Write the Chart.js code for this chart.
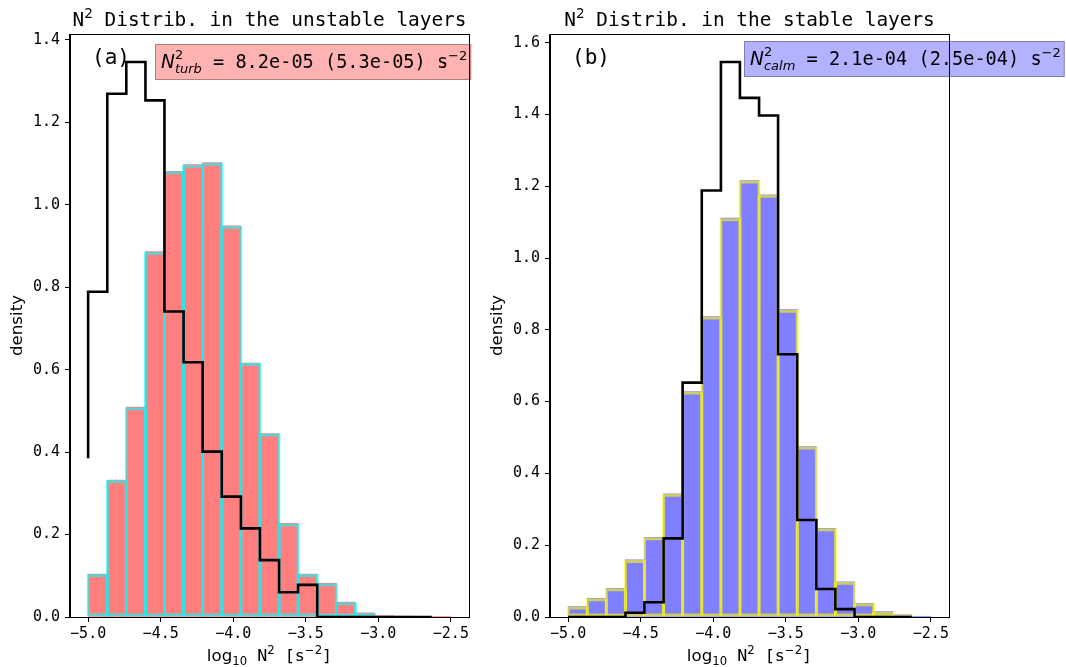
<!DOCTYPE html>
<html><head><meta charset="utf-8">
<script src="https://cdn.jsdelivr.net/npm/chart.js@4/dist/chart.umd.min.js"></script>
<style>
html,body{margin:0;padding:0;background:#fff;width:1066px;height:667px;overflow:hidden}
canvas{position:absolute;left:0;top:0}
</style></head><body>
<canvas id="c1" width="1066" height="667"></canvas>
<canvas id="c2" width="1066" height="667"></canvas>
<script>
// ---- data ----
const binEdges = [-5.000,-4.868,-4.737,-4.605,-4.474,-4.342,-4.211,-4.079,-3.947,-3.816,
                  -3.684,-3.553,-3.421,-3.289,-3.158,-3.026,-2.895,-2.763,-2.632,-2.500];
const unstableBars = [0.104,0.332,0.509,0.886,1.081,1.097,1.102,0.949,0.616,0.445,
                      0.227,0.104,0.082,0.036,0.010,0.003,0.002,0.001,0.001];
const unstableLine = [0.385,0.789,1.269,1.346,1.253,0.741,0.618,0.401,0.292,0.215,
                      0.138,0.060,0.078,0,0,0,0,0,0];
const stableBars = [0.029,0.052,0.080,0.159,0.222,0.343,0.628,0.837,1.111,1.216,
                    1.176,0.856,0.475,0.247,0.098,0.038,0.015,0.006,0.002];
const stableLine = [0,0,0,0,0.012,0.041,0.219,0.653,1.188,1.546,
                    1.446,1.397,0.732,0.270,0.078,0.022,0,0,0];
const xTicks = [-5.0,-4.5,-4.0,-3.5,-3.0,-2.5];
const xTickLabels = ['\u22125.0','\u22124.5','\u22124.0','\u22123.5','\u22123.0','\u22122.5'];
const yTicksUnstable = [0,0.2,0.4,0.6,0.8,1.0,1.2,1.4];
const yTickLabelsUnstable = ['0.0','0.2','0.4','0.6','0.8','1.0','1.2','1.4'];
const yTicksStable = [0,0.2,0.4,0.6,0.8,1.0,1.2,1.4,1.6];
const yTickLabelsStable = ['0.0','0.2','0.4','0.6','0.8','1.0','1.2','1.4','1.6'];
const titles = ['Distrib. in the unstable layers','Distrib. in the stable layers'];
const panelLetters = ['(a)','(b)'];
const annoSubs = ['turb','calm'];
const annoTexts = [' = 8.2e-05 (5.3e-05) s',' = 2.1e-04 (2.5e-04) s'];

const MONO = '"DejaVu Sans Mono", monospace';
const SANS = '"DejaVu Sans", sans-serif';

function fontStr(f){ return (f.style||'') + ' ' + f.size + 'px ' + f.family; }
function segWidth(ctx, s){
  if (s.stack){
    ctx.font = fontStr(s.f); const a = ctx.measureText(s.sup).width;
    ctx.font = fontStr(s.subF||s.f); const b = ctx.measureText(s.sub).width;
    return Math.max(a,b);
  }
  ctx.font = fontStr(s.f); return ctx.measureText(s.t).width;
}
function richWidth(ctx, segs){ return segs.reduce((a,s)=>a+segWidth(ctx,s),0); }
function drawRich(ctx, x, y, segs){
  ctx.textBaseline='alphabetic'; ctx.textAlign='left';
  for (const s of segs){
    const w = segWidth(ctx, s);
    ctx.font = fontStr(s.f);
    if (s.stack){
      ctx.fillText(s.sup, x, y + s.supDy);
      ctx.font = fontStr(s.subF||s.f);
      ctx.fillText(s.sub, x, y + s.subDy);
    } else {
      ctx.fillText(s.t, x, y + (s.dy||0));
    }
    x += w;
  }
}

const decor = {
  id:'decor',
  afterDraw(chart, args, o){
    const ctx = chart.ctx, a = chart.chartArea;
    ctx.save();
    ctx.strokeStyle = '#000'; ctx.lineWidth = 1;
    ctx.strokeRect(Math.round(a.left)-0.5, Math.round(a.top)+0.5, Math.round(a.right-a.left)+1, Math.round(a.bottom-a.top));
    ctx.fillStyle = '#000';
    const cx = (a.left+a.right)/2;
    // title
    const tsegs = [{t:'N', f:{family:MONO,size:19.4}}, {t:'2', f:{family:SANS,size:13.6}, dy:-8},
                   {t:' '+titles[o.idx], f:{family:MONO,size:19.4}}];
    drawRich(ctx, cx - richWidth(ctx,tsegs)/2, 26, tsegs);
    // x label
    const xs = [{t:'log', f:{family:SANS,size:16.7}}, {t:'10', f:{family:SANS,size:11.7}, dy:3.5},
                {t:' N', f:{family:MONO,size:16.7}}, {t:'2', f:{family:SANS,size:11.7}, dy:-7},
                {t:' [s', f:{family:MONO,size:16.7}}, {t:'\u22122', f:{family:SANS,size:11.7}, dy:-7},
                {t:']', f:{family:MONO,size:16.7}}];
    drawRich(ctx, cx - richWidth(ctx,xs)/2, 661, xs);
    // y label
    ctx.save();
    ctx.translate(a.left-52, (a.top+a.bottom)/2);
    ctx.rotate(-Math.PI/2);
    ctx.font = '16.7px '+SANS; ctx.textAlign='center'; ctx.textBaseline='middle';
    ctx.fillText('density', 0, 0);
    ctx.restore();
    // panel letter
    ctx.font = '21px '+MONO; ctx.textAlign='left'; ctx.textBaseline='alphabetic';
    ctx.fillText(panelLetters[o.idx], a.left+22, 64);
    // annotation box
    const asegs = [{t:'N', f:{family:SANS,size:18.6,style:'italic'}},
                   {stack:true, sup:'2', sub:annoSubs[o.idx], f:{family:SANS,size:13}, subF:{family:SANS,size:13,style:'italic'}, supDy:-9, subDy:4.5},
                   {t:annoTexts[o.idx], f:{family:MONO,size:18.6}},
                   {t:'\u22122', f:{family:SANS,size:13}, dy:-8}];
    const w = richWidth(ctx, asegs);
    const tx = o.annoX, ty = o.annoY;
    ctx.fillStyle = o.boxFill; ctx.strokeStyle = o.boxEdge; ctx.lineWidth = 1;
    ctx.fillRect(tx-6, ty-24, w+10, 36);
    ctx.strokeRect(tx-5.5, ty-23.5, w+9, 35);
    ctx.fillStyle = '#000';
    drawRich(ctx, tx, ty, asegs);
    ctx.restore();
  }
};

function makeChart(id, idx, bars, line, yTicks, yLabels, ymax, padLeft, padRight, face, edge, annoX, annoY, boxFill, boxEdge){
  const centers = binEdges.slice(0,-1).map((e,i)=>(e+binEdges[i+1])/2);
  const barData = bars.map((v,i)=>({x:centers[i], y:v}));
  const lineData = line.map((v,i)=>({x:binEdges[i], y:v}));
  const tickFont = {family:MONO, size:15};
  return new Chart(document.getElementById(id), {
    data:{ datasets:[
      {type:'line', data:lineData, stepped:'after', borderColor:'#000', borderWidth:2.6, pointRadius:0, fill:false, order:0},
      {type:'bar', data:barData, backgroundColor:'rgba(0,0,0,0)', borderColor:edge, borderWidth:3, borderSkipped:false,
       barPercentage:1.16, categoryPercentage:1, grouped:false, order:1},
      {type:'bar', data:barData, backgroundColor:face, borderWidth:0, barPercentage:1, categoryPercentage:1, grouped:false, order:2}
    ]},
    options:{
      responsive:false, animation:false, devicePixelRatio:1,
      layout:{padding:{left:padLeft, right:padRight, top:34, bottom:0}},
      plugins:{legend:{display:false}, tooltip:{enabled:false}, title:{display:false}, decor:{idx, annoX, annoY, boxFill, boxEdge}},
      scales:{
        x:{type:'linear', min:-5.125, max:-2.375, offset:false,
           afterBuildTicks:s=>{s.ticks = xTicks.map(v=>({value:v}));},
           afterFit:s=>{s.height = 50;},
           ticks:{callback:(v,i)=>xTickLabels[i], font:tickFont, color:'#000', padding:3, maxRotation:0, autoSkip:false},
           grid:{offset:false, drawOnChartArea:false, tickLength:5, tickColor:'#000'}, border:{color:'#000'}},
        y:{type:'linear', min:0, max:ymax,
           afterBuildTicks:s=>{s.ticks = yTicks.map(v=>({value:v}));},
           afterFit:s=>{s.width = 70;},
           ticks:{callback:(v,i)=>yLabels[i], font:tickFont, color:'#000', padding:5, autoSkip:false},
           grid:{drawOnChartArea:false, tickLength:5, tickColor:'#000'}, border:{color:'#000'}}
      }
    },
    plugins:[decor]
  });
}

makeChart('c1', 0, unstableBars, unstableLine, yTicksUnstable, yTickLabelsUnstable, 1.414, 0, 597,
          'rgba(255,0,0,0.5)', 'rgba(0,255,255,0.6)', 161, 68, 'rgba(255,0,0,0.3)', 'rgba(0,0,0,0.3)');
makeChart('c2', 1, stableBars, stableLine, yTicksStable, yTickLabelsStable, 1.624, 480, 117,
          'rgba(0,0,255,0.5)', 'rgba(255,255,0,0.6)', 750, 65, 'rgba(0,0,255,0.3)', 'rgba(0,0,0,0.3)');
</script>
</body></html>
